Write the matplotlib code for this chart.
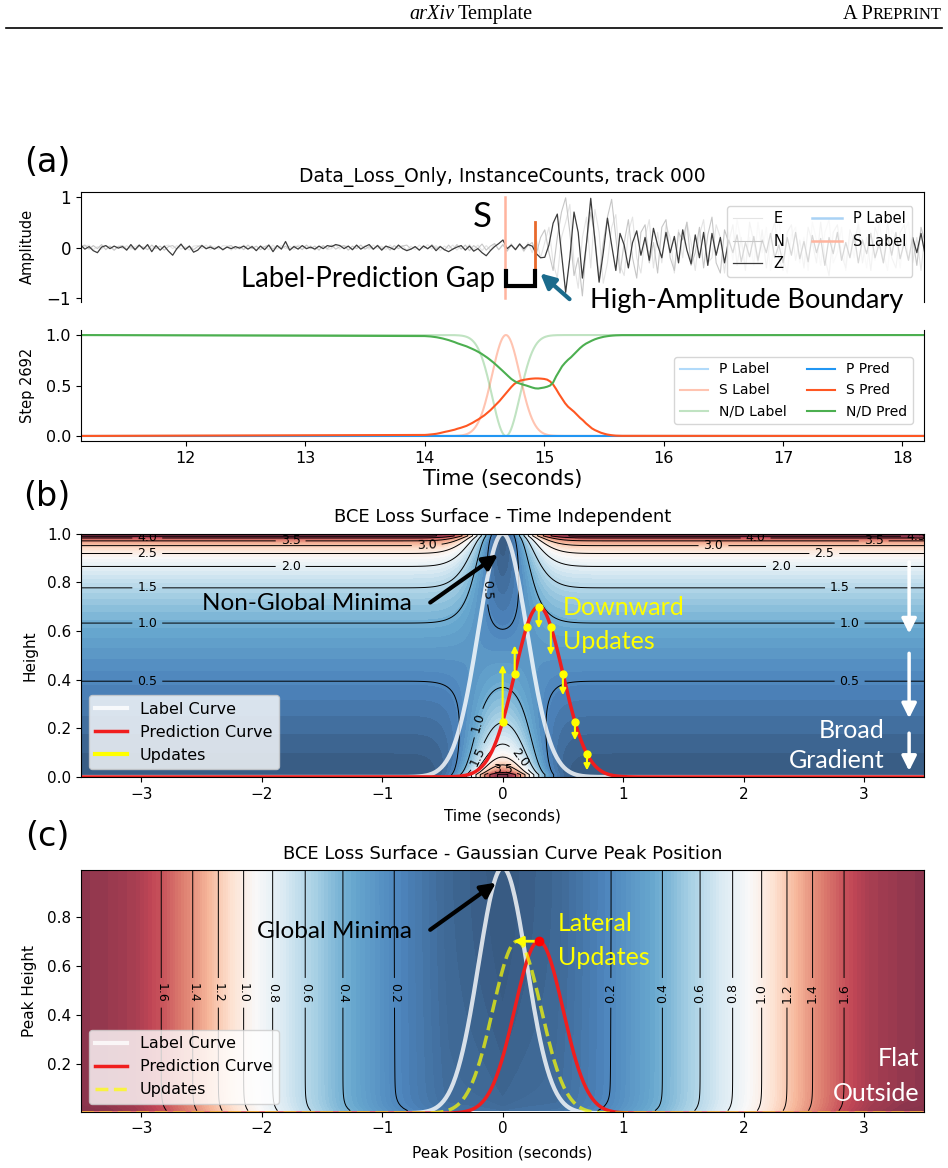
import numpy as np
import matplotlib
matplotlib.use("Agg")
import matplotlib.pyplot as plt
from matplotlib.lines import Line2D
from matplotlib.colors import ListedColormap

# ======================= DATA =======================
# --- panel (a) top: three-component waveform, uniform sampling ---
wave_t0 = 11.12
wave_dt = 0.035
wave_Z = [
    0.05, -0.03, 0.02, -0.06, -0.10, 0.01, 0.04, -0.02, 0.03, -0.01,
    0.02, -0.05, 0.06, -0.04, 0.05, -0.03, 0.06, -0.08, 0.04, -0.05,
    0.03, -0.07, -0.15, -0.02, 0.07, -0.04, 0.03, -0.09, -0.05, 0.04,
    -0.02, 0.01, -0.03, 0.02, -0.04, 0.01, -0.02, 0.02, -0.01, 0.03,
    -0.03, 0.02, -0.06, 0.03, -0.04, 0.05, -0.08, 0.04, -0.03, 0.12,
    -0.05, 0.02, -0.03, 0.04, -0.02, 0.01, -0.03, 0.03, -0.02, 0.04,
    0.02, 0.06, 0.04, -0.02, 0.03, -0.04, 0.05, -0.03, 0.02, 0.06,
    -0.03, 0.04, -0.05, 0.03, 0.00, -0.04, 0.05, -0.02, -0.06, -0.03,
    0.02, -0.05, 0.03, -0.02, 0.04, -0.06, 0.02, -0.04, -0.08, -0.03,
    0.01, 0.04, -0.05, 0.03, -0.07, -0.02, -0.10, -0.16, -0.06, 0.02,
    0.08, 0.15, -0.02, 0.05, -0.04, 0.07, -0.02, 0.06,
    0.03, -0.12, -0.20, -0.19, 0.05, 0.48, 0.66, -0.10, -0.88, -0.20,
    0.70, 0.30, -0.60, 0.10, 0.97, 0.15, -0.68, -0.10, 0.58, 0.05,
    -0.45, 0.28, 0.05, -0.40, 0.10, 0.33, -0.15, 0.20, -0.25, 0.38,
    0.05, -0.20, 0.30, -0.10, 0.22, -0.30, 0.35, -0.05, -0.32, 0.25,
    -0.20, 0.30, -0.35, 0.28, -0.15, 0.20, -0.30, 0.15, -0.10, 0.25,
    -0.28, 0.10, -0.18, 0.22, -0.25, 0.15, -0.10, 0.28, -0.20, 0.05,
    -0.30, 0.20, -0.15, 0.30, -0.22, 0.12, -0.28, 0.24, -0.10, 0.18,
    -0.35, 0.20, -0.12, 0.30, -0.25, 0.10, -0.20, 0.25, -0.30, 0.15,
    -0.12, 0.28, -0.20, 0.08, -0.30, 0.22, -0.15, 0.30, -0.22, 0.10,
    -0.25, 0.20, -0.10, 0.28, -0.15,
]
wave_N = [
    0.02, 0.05, -0.03, 0.04, -0.02, 0.06, -0.04, 0.03, -0.05, 0.02,
    0.04, -0.03, 0.02, -0.05, 0.03, 0.01, -0.04, 0.05, -0.02, 0.03,
    -0.05, 0.02, 0.04, -0.03, 0.05, -0.02, 0.03, -0.04, 0.02, 0.05,
    -0.03, 0.04, -0.02, 0.03, -0.05, 0.02, 0.04, -0.03, 0.02, -0.04,
    0.05, -0.02, 0.03, -0.04, 0.02, 0.05, -0.03, 0.04, -0.02, 0.03,
    -0.05, 0.03, 0.02, -0.04, 0.05, -0.02, 0.03, -0.05, 0.04, -0.02,
    0.05, -0.03, 0.02, 0.04, -0.05, 0.03, -0.02, 0.05, -0.03, 0.02,
    -0.04, 0.05, -0.02, 0.03, -0.05, 0.04, -0.02, 0.03, 0.05, -0.03,
    0.02, -0.05, 0.04, -0.03, 0.06, -0.02, 0.03, -0.05, 0.05, -0.04,
    0.06, -0.03, 0.05, -0.06, 0.04, -0.02, 0.07, -0.05, 0.03, 0.08,
    -0.04, 0.06, -0.07, 0.05, -0.03, 0.08, -0.06, 0.04,
    0.10, -0.12, 0.20, 0.35, -0.10, -0.45, 0.20, 0.70, 0.98, 0.30,
    -0.55, -0.20, -0.95, 0.10, 0.70, 0.20, -0.60, 0.10, 0.60, 0.95,
    0.20, -0.50, 0.10, 0.55, -0.20, -0.60, 0.30, 0.45, -0.30, 0.10,
    -0.50, 0.40, 0.55, -0.20, -0.45, 0.30, 0.15, 0.50, -0.35, -0.10,
    0.40, -0.40, 0.25, 0.60, -0.30, -0.50, 0.35, 0.10, 0.45, -0.35,
    0.20, -0.45, 0.50, 0.10, -0.30, 0.35, -0.40, 0.20, 0.50, -0.20,
    -0.45, 0.30, 0.45, -0.25, 0.15, -0.40, 0.40, 0.10, -0.30, 0.50,
    -0.20, -0.55, 0.30, 0.45, -0.15, -0.40, 0.35, 0.10, 0.45, -0.30,
    0.20, -0.45, 0.40, 0.15, -0.30, 0.50, -0.20, -0.40, 0.30, 0.45,
    -0.25, 0.20, -0.35, 0.40, 0.10,
]
wave_E = [
    -0.02, 0.03, 0.05, -0.04, 0.02, -0.03, 0.04, 0.01, -0.05, 0.03,
    -0.02, 0.04, -0.03, 0.02, 0.05, -0.04, 0.03, -0.02, 0.04, -0.05,
    0.03, 0.05, -0.02, 0.04, -0.03, 0.02, -0.05, 0.03, 0.04, -0.02,
    0.05, -0.04, 0.02, -0.03, 0.04, 0.03, -0.05, 0.02, -0.03, 0.05,
    -0.02, 0.04, -0.05, 0.03, 0.02, -0.04, 0.05, -0.03, 0.04, -0.02,
    0.03, -0.04, 0.05, 0.02, -0.03, 0.04, -0.05, 0.02, 0.03, -0.04,
    -0.02, 0.05, -0.03, 0.04, 0.02, -0.05, 0.03, -0.02, 0.04, -0.03,
    0.05, -0.02, 0.03, -0.04, 0.05, -0.03, 0.02, 0.04, -0.05, 0.03,
    -0.04, 0.05, -0.02, 0.06, -0.03, 0.04, -0.06, 0.03, -0.02, 0.05,
    -0.05, 0.04, -0.03, 0.06, -0.04, 0.05, -0.06, 0.04, -0.05, 0.07,
    -0.04, 0.05, -0.06, 0.08, -0.05, 0.06, -0.08, 0.10,
    -0.10, 0.15, -0.20, 0.10, 0.40, -0.30, -0.60, 0.20, 0.50, 0.85,
    -0.30, -0.80, 0.20, 0.60, -0.40, 0.75, 0.30, -0.70, -0.30, 0.40,
    0.65, -0.35, -0.55, 0.30, 0.60, -0.20, -0.50, 0.20, 0.55, -0.40,
    0.30, -0.30, 0.45, 0.20, -0.50, 0.35, -0.20, 0.50, 0.10, -0.45,
    0.25, 0.55, -0.30, -0.20, 0.45, 0.20, -0.50, 0.30, -0.25, 0.55,
    0.10, -0.40, 0.20, -0.35, 0.50, -0.10, 0.40, -0.45, 0.15, 0.55,
    -0.20, -0.50, 0.25, 0.40, -0.30, 0.20, -0.45, 0.50, 0.15, -0.35,
    0.30, 0.55, -0.30, -0.10, 0.40, -0.45, 0.25, -0.20, 0.50, 0.10,
    -0.40, 0.30, -0.25, 0.55, -0.10, -0.45, 0.35, 0.20, -0.40, 0.30,
    0.50, -0.30, 0.20, -0.45, 0.30,
]
s_label_time = 14.67        # S label marker on waveform
s_pick_time = 14.92         # high-amplitude boundary / predicted pick
gap_bracket_depth = [-0.46, -0.75]

# --- panel (a) bottom: label curves (Gaussian) and predictions ---
time_range = [11.1, 18.2]
s_label_center = 14.68
s_label_sigma = 0.116
pred_t_start = 14.0
pred_t_step = 0.025
s_pred_vals = [
    0.010, 0.012, 0.015, 0.018, 0.022, 0.028, 0.035, 0.042, 0.048, 0.055,
    0.062, 0.072, 0.080, 0.090, 0.100, 0.115, 0.130, 0.148, 0.165, 0.185,
    0.205, 0.230, 0.255, 0.285, 0.315, 0.345, 0.380, 0.415, 0.450, 0.485,
    0.515, 0.535, 0.548, 0.555, 0.560, 0.565, 0.568, 0.570, 0.570, 0.568,
    0.565, 0.558, 0.540, 0.510, 0.465, 0.415, 0.370, 0.325, 0.290, 0.265,
    0.240, 0.210, 0.180, 0.155, 0.125, 0.100, 0.075, 0.058, 0.045, 0.032,
    0.023, 0.015, 0.010, 0.006, 0.003, 0.002, 0.001,
]
nd_pred_vals = [
    0.990, 0.988, 0.986, 0.982, 0.978, 0.972, 0.966, 0.958, 0.950, 0.940,
    0.930, 0.918, 0.908, 0.898, 0.888, 0.875, 0.862, 0.848, 0.832, 0.815,
    0.795, 0.775, 0.752, 0.728, 0.702, 0.675, 0.648, 0.620, 0.592, 0.565,
    0.545, 0.528, 0.518, 0.508, 0.500, 0.490, 0.480, 0.472, 0.470, 0.475,
    0.480, 0.488, 0.500, 0.530, 0.590, 0.640, 0.690, 0.725, 0.755, 0.780,
    0.810, 0.840, 0.870, 0.895, 0.915, 0.930, 0.945, 0.958, 0.968, 0.976,
    0.983, 0.988, 0.992, 0.995, 0.997, 0.998, 0.999,
]
s_pred_outside = 0.0
nd_pred_outside = 1.0
p_pred_level = 0.0

# --- panels (b),(c): Gaussian curves ---
curve_sigma = 0.2
label_center, label_height = 0.0, 1.0
pred_center, pred_height = 0.3, 0.7
updated_center = 0.12
lateral_arrow_tip = 0.09

# (b) vertical update arrows: x positions and the heights they point to
update_x = [0.0, 0.1, 0.2, 0.3, 0.4, 0.5, 0.6, 0.7]
update_to = [0.46, 0.54, 0.616, 0.61, 0.50, 0.336, 0.151, 0.027]
b_height_clip = [0.01, 0.99]
b_line_levels = [0.5, 1.0, 1.5, 2.0, 2.5, 3.0, 3.5, 4.0, 4.5]

c_profile_pos = [0.0, 0.45, 0.9, 1.33, 1.64, 1.91, 2.15, 2.36, 2.57, 2.83, 3.05, 3.3, 3.5]
c_profile_loss = [0.0, 0.06, 0.2, 0.4, 0.6, 0.8, 1.0, 1.2, 1.4, 1.6, 1.72, 1.78, 1.80]
c_line_levels = [0.2, 0.4, 0.6, 0.8, 1.0, 1.2, 1.4, 1.6]
c_height_range = [0.01, 0.99]
c_bottom_lift = 0.03
c_center_dip = 0.06

# ======================= FIGURE =======================
W, H = 948.0, 1168.0
fig = plt.figure(figsize=(9.48, 11.68), dpi=100)
ANN = ["Lato", "DejaVu Sans"]

# RdBu_r drawn at 80% opacity on white, pre-blended (avoids seams between bands)
_base = plt.get_cmap("RdBu_r")(np.linspace(0, 1, 256))
_base[:, :3] = 0.8 * _base[:, :3] + 0.2
SURF_CMAP = ListedColormap(_base)


def add_ax(l, t, r, b):
    return fig.add_axes([l / W, 1 - b / H, (r - l) / W, (b - t) / H])


# ---- page header ----
fig.text(454 / W, 1 - 19 / H, "arXiv", family="Liberation Serif", style="italic",
         fontsize=14.6, ha="right", va="baseline")
fig.text(458 / W, 1 - 19 / H, "Template", family="Liberation Serif",
         fontsize=14.6, ha="left", va="baseline")
t_rep = fig.text(942 / W, 1 - 19 / H, "REPRINT", family="Liberation Serif",
                 fontsize=12, ha="right", va="baseline")
fig.canvas.draw()
bb = t_rep.get_window_extent()
fig.text((bb.x0 - 0.5) / W, 1 - 19 / H, "A P", family="Liberation Serif",
         fontsize=14.6, ha="right", va="baseline")
fig.add_artist(Line2D([6 / W, 942 / W], [1 - 28 / H, 1 - 28 / H], color="black", lw=1.2))

# ---- panel labels ----
for lab, yc in [("(a)", 163), ("(b)", 497), ("(c)", 836)]:
    fig.text(47 / W, 1 - yc / H, lab, fontsize=24, ha="center", va="center")

# ======================= PANEL (a) top =======================
ax1 = add_ax(80.7, 191.7, 924, 302)
tE = wave_t0 + wave_dt * np.arange(len(wave_E))
tN = wave_t0 + wave_dt * np.arange(len(wave_N))
tZ = wave_t0 + wave_dt * np.arange(len(wave_Z))
ax1.plot(tE, wave_E, color="#e4e4e4", lw=0.8, label="E")
ax1.plot(tN, wave_N, color="#c6c6c6", lw=0.8, label="N")
ax1.plot(tZ, wave_Z, color="#3c3c3c", lw=0.9, label="Z")
ax1.plot([], [], color="#a9d2f5", lw=1.8, label="P Label")
ax1.plot([s_label_time, s_label_time], [-1, 1], color="#ffb49e", lw=1.8, label="S Label")
ax1.plot([s_pick_time, s_pick_time], [-0.46, 0.5], color="#e8692c", lw=2)
ax1.set_xlim(11.12, 18.18)
ax1.set_ylim(-1.07, 1.1)
ax1.set_yticks([-1, 0, 1])
ax1.tick_params(axis="y", labelsize=12)
ax1.tick_params(axis="x", bottom=False, labelbottom=False)
ax1.spines["bottom"].set_visible(False)
ax1.set_title("Data_Loss_Only, InstanceCounts, track 000", fontsize=13.5, pad=7)
ax1.set_ylabel("Amplitude", fontsize=10.5)
ax1.yaxis.set_label_coords(-0.054, 0.5)
ax1.legend(ncol=2, fontsize=10.5, loc="upper right", bbox_to_anchor=(0.995, 0.94),
           framealpha=0.8, columnspacing=1.9)

# annotations
ax1.text(14.48, 0.6, "S", fontsize=25, family=ANN, ha="center", va="center")
ax1.plot([s_label_time + 0.01, s_label_time + 0.01, s_pick_time, s_pick_time],
         [gap_bracket_depth[0], gap_bracket_depth[1], gap_bracket_depth[1], gap_bracket_depth[0]],
         color="black", lw=3, clip_on=False, solid_joinstyle="miter")
ax1.text(14.585, -0.62, "Label-Prediction Gap", fontsize=19.8, family=ANN,
         ha="right", va="center")
ax1.annotate("", xy=(14.95, -0.47), xytext=(15.23, -1.05),
             arrowprops=dict(arrowstyle="-|>", color="#1b6b8c", lw=3, mutation_scale=22),
             annotation_clip=False)
ax1.text(15.38, -1.05, "High-Amplitude Boundary", fontsize=19.6, family=ANN,
         ha="left", va="center", clip_on=False)

# ======================= PANEL (a) bottom =======================
ax2 = add_ax(80.7, 330, 924, 441)
C_BLUE, C_RED, C_GREEN = "#2196f3", "#ff5722", "#4caf50"
t_lab = np.linspace(time_range[0], time_range[1], 1500)
s_lab = np.exp(-(t_lab - s_label_center) ** 2 / (2 * s_label_sigma ** 2))
p_lab = np.zeros_like(t_lab)
nd_lab = 1 - s_lab - p_lab
pt_mid = pred_t_start + pred_t_step * np.arange(len(s_pred_vals))
pred_t = np.concatenate([[time_range[0]], pt_mid, [time_range[1]]])
s_pred = np.concatenate([[s_pred_outside], s_pred_vals, [s_pred_outside]])
nd_pred = np.concatenate([[nd_pred_outside], nd_pred_vals, [nd_pred_outside]])
p_pred = np.full_like(pred_t, p_pred_level)

ax2.plot(t_lab, p_lab, color=C_BLUE, alpha=0.35, lw=1.5, label="P Label")
ax2.plot(t_lab, s_lab, color=C_RED, alpha=0.35, lw=1.5, label="S Label")
ax2.plot(t_lab, nd_lab, color=C_GREEN, alpha=0.35, lw=1.5, label="N/D Label")
ax2.plot(pred_t, p_pred, color=C_BLUE, lw=1.5, label="P Pred")
ax2.plot(pred_t, s_pred, color=C_RED, lw=1.5, label="S Pred")
ax2.plot(pred_t, nd_pred, color=C_GREEN, lw=1.5, label="N/D Pred")
ax2.set_xlim(11.12, 18.18)
ax2.set_ylim(-0.05, 1.05)
ax2.set_yticks([0.0, 0.5, 1.0])
ax2.set_xticks([12, 13, 14, 15, 16, 17, 18])
ax2.tick_params(labelsize=11.5)
ax2.spines["top"].set_visible(False)
ax2.set_ylabel("Step 2692", fontsize=10.5)
ax2.yaxis.set_label_coords(-0.054, 0.5)
ax2.set_xlabel("Time (seconds)", fontsize=15)
ax2.xaxis.set_label_coords(0.5, -0.25)
ax2.legend(ncol=2, fontsize=10, loc="upper right", bbox_to_anchor=(0.995, 0.82),
           framealpha=0.8, columnspacing=1.5)

# ======================= PANEL (b) =======================
axb = add_ax(81, 533.5, 924.3, 777)
tb = np.linspace(-3.5, 3.5, 351)
hb = np.linspace(0.0, 1.0, 301)
TB, HB = np.meshgrid(tb, hb)
HBc = np.clip(HB, b_height_clip[0], b_height_clip[1])
LB = label_height * np.exp(-(TB - label_center) ** 2 / (2 * curve_sigma ** 2))
ZB = -(LB * np.log(HBc) + (1 - LB) * np.log(1 - HBc))
axb.contourf(TB, HB, ZB, levels=np.linspace(ZB.min(), ZB.max(), 50), cmap=SURF_CMAP)
csb = axb.contour(TB, HB, ZB, levels=b_line_levels, colors="black", linewidths=0.7)
b_manual = [(-2.95, 0.39), (-2.95, 0.63), (-2.95, 0.78), (-1.76, 0.865), (-2.95, 0.92),
            (-0.63, 0.952), (-1.76, 0.97), (-2.95, 0.982),
            (2.88, 0.39), (2.88, 0.63), (2.8, 0.78), (2.31, 0.865), (2.67, 0.92),
            (1.75, 0.952), (3.08, 0.97), (2.1, 0.982), (3.43, 0.989),
            (-0.12, 0.77), (-0.19, 0.22), (-0.19, 0.08), (0.14, 0.08), (0.0, 0.035)]
axb.clabel(csb, manual=b_manual, fontsize=9, inline=True, fmt="%.1f")

xc = np.linspace(-3.5, 3.5, 701)
lab_curve = label_height * np.exp(-(xc - label_center) ** 2 / (2 * curve_sigma ** 2))
pred_curve = pred_height * np.exp(-(xc - pred_center) ** 2 / (2 * curve_sigma ** 2))
axb.plot(xc, lab_curve, color="white", alpha=0.8, lw=3, label="Label Curve")
axb.plot(xc, pred_curve, color="#f01e1e", lw=2.5, label="Prediction Curve")
ux = np.array(update_x)
uy0 = pred_height * np.exp(-(ux - pred_center) ** 2 / (2 * curve_sigma ** 2))
for x0, y0, y1 in zip(ux, uy0, update_to):
    if abs(y1 - y0) > 0.02:
        axb.annotate("", xy=(x0, y1), xytext=(x0, y0),
                     arrowprops=dict(arrowstyle="-|>", color="yellow", lw=1.5,
                                     mutation_scale=9, shrinkA=0, shrinkB=0))
axb.plot(ux, uy0, "o", color="yellow", ms=5, zorder=5)
axb.plot([], [], color="yellow", lw=3, label="Updates")
axb.set_xlim(-3.5, 3.5)
axb.set_ylim(0, 1)
axb.tick_params(labelsize=11)
axb.set_title("BCE Loss Surface - Time Independent", fontsize=13, pad=8)
axb.set_xlabel("Time (seconds)", fontsize=11)
axb.xaxis.set_label_coords(0.5, -0.13)
axb.set_ylabel("Height", fontsize=11)
axb.yaxis.set_label_coords(-0.052, 0.5)
axb.legend(loc="lower left", fontsize=11.5, framealpha=0.8)

axb.annotate("", xy=(-0.02, 0.92), xytext=(-0.62, 0.71),
             arrowprops=dict(arrowstyle="-|>", color="black", lw=3, mutation_scale=22))
axb.text(-0.75, 0.713, "Non-Global Minima", fontsize=17.5, family=ANN, ha="right", va="center")
axb.text(0.5, 0.697, "Downward", fontsize=18, family=ANN, color="yellow", ha="left", va="center")
axb.text(0.5, 0.555, "Updates", fontsize=18, family=ANN, color="yellow", ha="left", va="center")
for y0, y1 in [(0.883, 0.589), (0.508, 0.241), (0.18, 0.025)]:
    axb.annotate("", xy=(3.374, y1), xytext=(3.374, y0),
                 arrowprops=dict(arrowstyle="-|>", color="white", lw=2.5,
                                 mutation_scale=22, shrinkA=0, shrinkB=0))
axb.text(3.17, 0.192, "Broad", fontsize=18, family=ANN, color="white", ha="right", va="center")
axb.text(3.17, 0.069, "Gradient", fontsize=18, family=ANN, color="white", ha="right", va="center")

# ======================= PANEL (c) =======================
axc = add_ax(81, 870, 924.3, 1111.7)
mc = np.linspace(-3.5, 3.5, 141)
hc = np.linspace(c_height_range[0], c_height_range[1], 99)
MC, HC = np.meshgrid(mc, hc)
ZC = (np.interp(np.abs(MC), c_profile_pos, c_profile_loss)
      + c_bottom_lift * np.exp(-(HC - hc[0]) / 0.025)
      + c_center_dip * (1 - HC) ** 2 * np.exp(-MC ** 2 / (2 * 0.35 ** 2)))
axc.contourf(MC, HC, ZC, levels=np.linspace(ZC.min(), ZC.max(), 100), cmap=SURF_CMAP)
csc = axc.contour(MC, HC, ZC, levels=c_line_levels, colors="black", linewidths=0.7)
c_manual = [(s * p, 0.49) for s in (-1, 1) for p in c_profile_pos[2:10]]
axc.clabel(csc, manual=c_manual, fontsize=9, inline=True, fmt="%.1f")

upd_curve = pred_height * np.exp(-(xc - updated_center) ** 2 / (2 * curve_sigma ** 2))
axc.plot(xc, lab_curve, color="white", alpha=0.8, lw=3, label="Label Curve")
axc.plot(xc, pred_curve, color="#f01e1e", lw=2.5, label="Prediction Curve")
axc.plot(xc, upd_curve, color="yellow", alpha=0.7, lw=2.5, ls="--", label="Updates")
axc.annotate("", xy=(lateral_arrow_tip, pred_height), xytext=(pred_center, pred_height),
             arrowprops=dict(arrowstyle="-|>", color="yellow", lw=2,
                             mutation_scale=14, shrinkA=0, shrinkB=0))
axc.plot([pred_center], [pred_height], "o", color="red", ms=6, zorder=6)
axc.set_xlim(-3.5, 3.5)
axc.set_ylim(0.006, c_height_range[1])
axc.tick_params(labelsize=11)
axc.set_yticks([0.2, 0.4, 0.6, 0.8])
axc.set_title("BCE Loss Surface - Gaussian Curve Peak Position", fontsize=13, pad=8)
axc.set_xlabel("Peak Position (seconds)", fontsize=11)
axc.xaxis.set_label_coords(0.5, -0.14)
axc.set_ylabel("Peak Height", fontsize=11)
axc.yaxis.set_label_coords(-0.052, 0.5)
axc.legend(loc="lower left", fontsize=11.5, framealpha=0.8)

axc.annotate("", xy=(-0.037, 0.945), xytext=(-0.62, 0.74),
             arrowprops=dict(arrowstyle="-|>", color="black", lw=3, mutation_scale=22))
axc.text(-0.75, 0.74, "Global Minima", fontsize=17.5, family=ANN, ha="right", va="center")
axc.text(0.46, 0.773, "Lateral", fontsize=18, family=ANN, color="yellow", ha="left", va="center")
axc.text(0.46, 0.632, "Updates", fontsize=18, family=ANN, color="yellow", ha="left", va="center")
axc.text(3.457, 0.223, "Flat", fontsize=18, family=ANN, color="white", ha="right", va="center")
axc.text(3.457, 0.082, "Outside", fontsize=18, family=ANN, color="white", ha="right", va="center")

fig.savefig("out.png", dpi=100)
